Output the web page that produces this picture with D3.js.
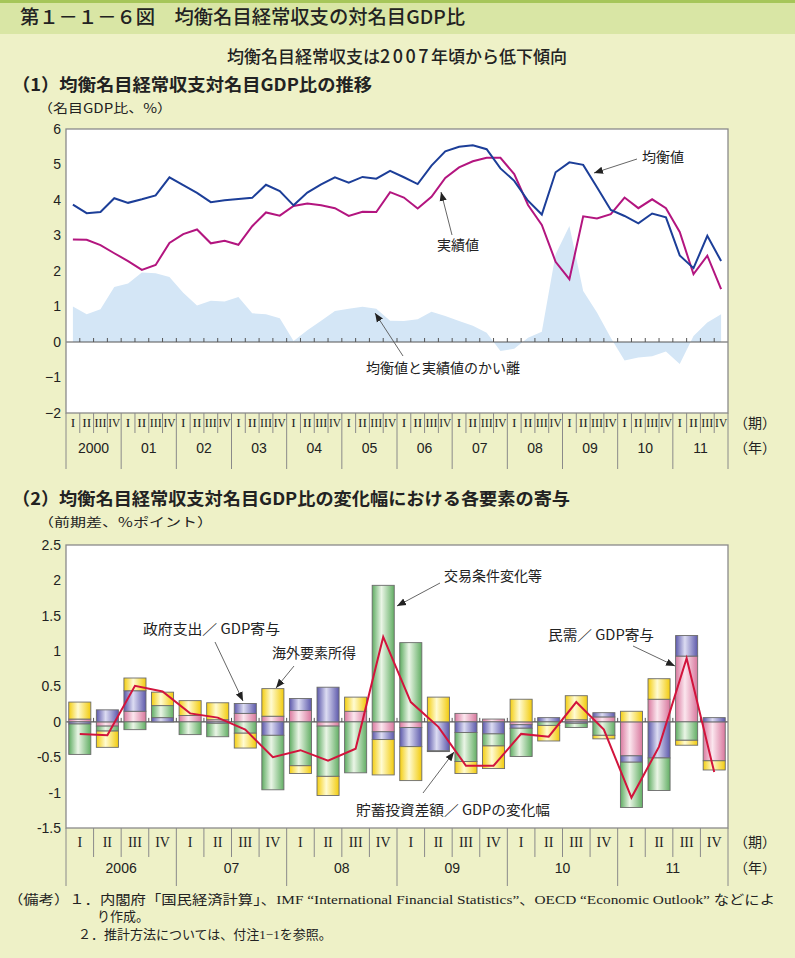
<!DOCTYPE html>
<html><head><meta charset="utf-8">
<script src="https://cdn.jsdelivr.net/npm/d3@7"></script>
<style>
html,body{margin:0;padding:0;background:#eef1c7;}
svg{display:block;}
</style>
</head><body>
<svg id="chart" width="795" height="958"></svg>
<script>
// ---------- DATA ----------
const quarterLabels = ["I","II","III","IV"];
const yearsTop = ["2000","01","02","03","04","05","06","07","08","09","10","11"];
const yearsBottom = ["2006","07","08","09","10","11"];
const topTicks = [-2,-1,0,1,2,3,4,5,6];
const bottomTicks = [-1.5,-1,-0.5,0,0.5,1,1.5,2,2.5];

// (1) 2000Q1 - 2011Q4
const equilibrium = [3.87,3.63,3.66,4.05,3.92,4.02,4.13,4.64,4.42,4.20,3.94,3.99,4.03,4.06,4.43,4.25,3.85,4.21,4.44,4.64,4.49,4.65,4.60,4.82,
                     4.64,4.45,4.97,5.37,5.50,5.54,5.43,4.89,4.54,3.98,3.59,4.78,5.06,4.99,4.36,3.72,3.55,3.34,3.62,3.51,2.44,2.08,2.99,2.28];
const actual      = [2.89,2.88,2.73,2.50,2.28,2.03,2.17,2.79,3.04,3.17,2.78,2.85,2.74,3.26,3.65,3.56,3.83,3.90,3.85,3.77,3.55,3.67,3.66,4.22,
                     4.07,3.76,4.09,4.62,4.92,5.09,5.19,5.19,4.73,3.86,3.30,2.26,1.77,3.54,3.48,3.60,4.07,3.77,4.02,3.77,3.10,1.91,2.43,1.49];
const gap         = [1.00,0.78,0.92,1.55,1.65,1.96,1.94,1.83,1.39,1.03,1.16,1.14,1.27,0.81,0.78,0.67,0.03,0.33,0.60,0.87,0.94,0.99,0.94,0.60,
                     0.59,0.64,0.85,0.73,0.59,0.46,0.26,-0.25,-0.19,0.12,0.29,2.47,3.27,1.44,0.83,0.12,-0.52,-0.44,-0.40,-0.27,-0.62,0.17,0.55,0.78];

// (2) 2006Q1 - 2011Q4
const privateDemand = [0.04,-0.06,0.15,0.00,0.09,0.03,0.12,0.08,0.16,-0.06,0.15,-0.14,-0.08,0.00,0.12,0.04,-0.04,0.00,0.03,0.07,-0.48,0.32,0.93,-0.55];
const government    = [-0.03,0.17,0.29,0.06,0.00,-0.02,0.14,-0.19,0.17,0.49,0.00,-0.11,-0.27,-0.41,-0.15,-0.17,-0.05,0.06,-0.02,0.06,-0.09,-0.51,0.29,0.06];
const termsOfTrade  = [-0.43,-0.07,-0.11,0.17,-0.18,-0.19,-0.16,-0.77,-0.62,-0.71,-0.72,1.93,1.12,-0.01,-0.41,-0.17,-0.40,-0.05,-0.06,-0.19,-0.64,-0.46,-0.26,0.00];
const factorIncome  = [0.24,-0.23,0.18,0.19,0.21,0.24,-0.21,0.39,-0.11,-0.27,0.20,-0.50,-0.48,0.35,-0.17,-0.32,0.32,-0.22,0.34,-0.05,0.15,0.29,-0.07,-0.13];
const savingInvestment = [-0.17,-0.19,0.51,0.43,0.12,0.06,-0.11,-0.50,-0.40,-0.55,-0.38,1.20,0.28,-0.07,-0.62,-0.62,-0.17,-0.21,0.28,-0.11,-1.07,-0.35,0.90,-0.71];

// ---------- STYLE ----------
const JP = "'Noto Sans CJK JP','Noto Sans',sans-serif";
const NUM = "'Liberation Sans',Arial,sans-serif";
const SERIF = "'Liberation Serif','DejaVu Serif',serif";
const GRID = "#8a8a8a";

const svg = d3.select("#chart");
svg.append("rect").attr("width",795).attr("height",958).attr("fill","#eef1c7");
svg.append("rect").attr("x",0).attr("y",0).attr("width",795).attr("height",3).attr("fill","#a6c65a");
svg.append("rect").attr("x",0).attr("y",3).attr("width",795).attr("height",31).attr("fill","#d9e6a5");

const defs = svg.append("defs");
defs.append("marker").attr("id","arr").attr("viewBox","0 0 10 10").attr("refX",10).attr("refY",5)
  .attr("markerWidth",9).attr("markerHeight",9).attr("orient","auto").attr("markerUnits","userSpaceOnUse")
  .append("path").attr("d","M0,1 L10,5 L0,9 z").attr("fill","#222");

function grad(id, dark, light, mid){
  const g = defs.append("linearGradient").attr("id",id).attr("x1","0").attr("x2","1").attr("y1","0").attr("y2","0");
  g.append("stop").attr("offset","0").attr("stop-color",dark);
  g.append("stop").attr("offset","0.42").attr("stop-color",light);
  g.append("stop").attr("offset","1").attr("stop-color",mid);
}
grad("gPink","#d9799f","#fbe6ee","#d8779d");
grad("gPurple","#5c58aa","#dcdcf2","#5d59ab");
grad("gGreen","#5fac62","#eaf5e6","#62ae64");
grad("gYellow","#f3cd10","#fffbd2","#f2cb0c");

function txt(x,y,s,size,opts={}){
  const t = svg.append("text").attr("x",x).attr("y",y).text(s)
    .attr("font-family",opts.family||JP).attr("font-size",size).attr("fill",opts.fill||"#222")
    .attr("text-anchor",opts.anchor||"start").attr("dominant-baseline",opts.base||"middle");
  if(opts.weight) t.attr("font-weight",opts.weight);
  if(opts.len) t.attr("textLength",opts.len).attr("lengthAdjust","spacingAndGlyphs");
  return t;
}

// ---------- HEADINGS ----------
txt(20,19,"第１－１－６図　均衡名目経常収支の対名目GDP比",19,{weight:500,len:445});
{
  const st = svg.append("text").attr("x",397).attr("y",58).attr("text-anchor","middle").attr("dominant-baseline","middle")
    .attr("font-family",JP).attr("font-size",17).attr("font-weight",500).attr("fill","#222");
  st.append("tspan").text("均衡名目経常収支は");
  st.append("tspan").attr("font-size",18).attr("letter-spacing",2.5).text("2007");
  st.append("tspan").text("年頃から低下傾向");
}
txt(12,86,"（1）均衡名目経常収支対名目GDP比の推移",17.5,{weight:700,len:360});
txt(38,110,"（名目GDP比、%）",12.5,{len:134});
txt(12,500,"（2）均衡名目経常収支対名目GDP比の変化幅における各要素の寄与",17.5,{weight:700,len:558});
txt(38,524,"（前期差、%ポイント）",12.5,{len:175});

// ---------- common category axis ----------
function catAxis(x, n, years, plotBottom, qRowH, yRowH, qFont, yFont, qLen){
  const bw = x.bandwidth();
  const g = svg.append("g");
  for(let i=0;i<=n;i++){
    const xx = x.range()[0] + i*bw;
    const isYear = i%4===0;
    g.append("line").attr("x1",xx).attr("x2",xx).attr("y1",plotBottom).attr("y2",plotBottom+(isYear?qRowH+yRowH:qRowH))
      .attr("stroke",GRID).attr("stroke-width",1);
  }
  for(let i=0;i<n;i++){
    const t = g.append("text").attr("x",x(i)+bw/2).attr("y",plotBottom+qRowH/2+1).text(quarterLabels[i%4])
      .attr("font-family",SERIF).attr("font-size",qFont).attr("fill","#222")
      .attr("text-anchor","middle").attr("dominant-baseline","middle");
    if(i%4>=2 && qLen) t.attr("textLength",qLen).attr("lengthAdjust","spacingAndGlyphs");
  }
  years.forEach((yr,k)=>{
    g.append("text").attr("x",x(k*4)+bw*2).attr("y",plotBottom+qRowH+yRowH/2-2).text(yr)
      .attr("font-family",NUM).attr("font-size",yFont).attr("fill","#222")
      .attr("text-anchor","middle").attr("dominant-baseline","middle");
  });
  txt(x.range()[1]+6, plotBottom+qRowH/2+1, "（期）",14,{});
  txt(x.range()[1]+6, plotBottom+qRowH+yRowH/2-2, "（年）",14,{});
}

// ---------- (1) TOP CHART ----------
const L = 66, R = 728;
const t = {top:129, bottom:413};
const x1 = d3.scaleBand().domain(d3.range(48)).range([L,R]).padding(0);
const y1 = d3.scaleLinear().domain([-2,6]).range([t.bottom,t.top]);
const cx1 = i => x1(i)+x1.bandwidth()/2;

svg.append("rect").attr("x",L).attr("y",t.top).attr("width",R-L).attr("height",t.bottom-t.top).attr("fill","#fff");

svg.append("path").datum(gap)
  .attr("d", d3.area().x((d,i)=>cx1(i)).y0(y1(0)).y1(d=>y1(d)))
  .attr("fill","#d4e6f6");

// zero line + ticks
svg.append("line").attr("x1",L).attr("x2",R).attr("y1",y1(0)).attr("y2",y1(0)).attr("stroke","#555").attr("stroke-width",1.2);
for(let i=1;i<48;i++){
  svg.append("line").attr("x1",x1(i)).attr("x2",x1(i)).attr("y1",y1(0)).attr("y2",y1(0)-4).attr("stroke","#555").attr("stroke-width",1);
}

const lineGen1 = d3.line().x((d,i)=>cx1(i)).y(d=>y1(d));
svg.append("path").datum(actual).attr("d",lineGen1).attr("fill","none").attr("stroke","#b3157f").attr("stroke-width",2);
svg.append("path").datum(equilibrium).attr("d",lineGen1).attr("fill","none").attr("stroke","#1c3e98").attr("stroke-width",2);

svg.append("rect").attr("x",L).attr("y",t.top).attr("width",R-L).attr("height",t.bottom-t.top)
  .attr("fill","none").attr("stroke",GRID).attr("stroke-width",1.3);

const ay1 = svg.append("g").attr("transform",`translate(${L},0)`)
  .call(d3.axisLeft(y1).tickValues(topTicks).tickSize(0).tickPadding(5).tickFormat(d3.format("d")));
ay1.select(".domain").remove();
ay1.selectAll("text").attr("font-family",NUM).attr("font-size",14).attr("fill","#222");

catAxis(x1,48,yearsTop,t.bottom,20,36,13.5,14,12);

// annotations top
function arrow(xa,ya,xb,yb){
  svg.append("line").attr("x1",xa).attr("y1",ya).attr("x2",xb).attr("y2",yb)
    .attr("stroke","#555").attr("stroke-width",0.9).attr("marker-end","url(#arr)");
}
txt(642,158,"均衡値",14);
arrow(637,159,594,173);
txt(437,246,"実績値",14);
arrow(452,235,441,192);
txt(366,369,"均衡値と実績値のかい離",14,{len:154});
arrow(403,356,375,313);

// ---------- (2) BOTTOM CHART ----------
const b = {top:545, bottom:828};
const x2 = d3.scaleBand().domain(d3.range(24)).range([L,R]).paddingInner(0).paddingOuter(0);
const y2 = d3.scaleLinear().domain([-1.5,2.5]).range([b.bottom,b.top]);
const bw2 = x2.bandwidth();
const barW = bw2*0.8;

svg.append("rect").attr("x",L).attr("y",b.top).attr("width",R-L).attr("height",b.bottom-b.top).attr("fill","#fff");

svg.append("line").attr("x1",L).attr("x2",R).attr("y1",y2(0)).attr("y2",y2(0)).attr("stroke","#555").attr("stroke-width",1.2);
for(let i=1;i<24;i++){
  svg.append("line").attr("x1",x2(i)).attr("x2",x2(i)).attr("y1",y2(0)).attr("y2",y2(0)-4).attr("stroke","#555").attr("stroke-width",1);
}

const keys = ["pink","purple","green","yellow"];
const fills = {pink:"url(#gPink)",purple:"url(#gPurple)",green:"url(#gGreen)",yellow:"url(#gYellow)"};
const table = d3.range(24).map(i=>({i, pink:privateDemand[i], purple:government[i], green:termsOfTrade[i], yellow:factorIncome[i]}));
const stacked = d3.stack().keys(keys).offset(d3.stackOffsetDiverging)(table);

stacked.forEach(layer=>{
  svg.append("g").selectAll("rect").data(layer.filter(d=>Math.abs(d[1]-d[0])>0.0001)).join("rect")
    .attr("x",d=>x2(d.data.i)+(bw2-barW)/2)
    .attr("width",barW)
    .attr("y",d=>y2(Math.max(d[0],d[1])))
    .attr("height",d=>Math.abs(y2(d[0])-y2(d[1])))
    .attr("fill",fills[layer.key])
    .attr("stroke","#6b6b6b").attr("stroke-width",0.9);
});

svg.append("path").datum(savingInvestment)
  .attr("d", d3.line().x((d,i)=>x2(i)+bw2/2).y(d=>y2(d)))
  .attr("fill","none").attr("stroke","#d2143c").attr("stroke-width",2);

svg.append("rect").attr("x",L).attr("y",b.top).attr("width",R-L).attr("height",b.bottom-b.top)
  .attr("fill","none").attr("stroke",GRID).attr("stroke-width",1.3);

const ay2 = svg.append("g").attr("transform",`translate(${L},0)`)
  .call(d3.axisLeft(y2).tickValues(bottomTicks).tickSize(0).tickPadding(5).tickFormat(d=>String(d)));
ay2.select(".domain").remove();
ay2.selectAll("text").attr("font-family",NUM).attr("font-size",14).attr("fill","#222");

catAxis(x2,24,yearsBottom,b.bottom,29,29,14,14,null);

// annotations bottom
txt(143,630,"政府支出／ GDP寄与",14,{len:137});
arrow(215,642,243,701);
txt(272,654,"海外要素所得",14,{len:84});
arrow(294,666,276,688);
txt(444,577,"交易条件変化等",14,{len:98});
arrow(440,583,397,606);
txt(548,636,"民需／ GDP寄与",14,{len:106});
arrow(633,646,675,666);
txt(356,811,"貯蓄投資差額／ GDPの変化幅",14,{len:194});
arrow(423,793,454,752);

// ---------- FOOTNOTES ----------
const FN = "'Liberation Serif','Noto Sans CJK JP',serif";
txt(8,901,"（備考）１．内閣府「国民経済計算」、IMF “International Financial Statistics”、OECD “Economic Outlook” などによ",13,{family:FN,len:767});
txt(97,918,"り作成。",13,{family:FN});
txt(78,936,"２．推計方法については、付注1−1を参照。",13,{family:FN});
</script>
</body></html>
